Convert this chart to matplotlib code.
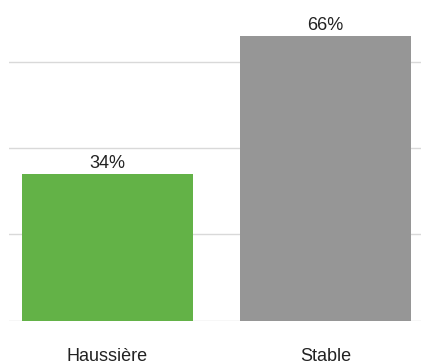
import matplotlib
matplotlib.use("Agg")
import matplotlib.pyplot as plt

categories = ["Haussière", "Stable"]
values = [34, 66]
colors = ["#63b247", "#969696"]
gridticks = [0, 20, 40, 60]

plt.rcParams['font.family'] = ['Liberation Sans', 'DejaVu Sans']

fig = plt.figure(figsize=(4.21, 3.64), dpi=100)
ax = fig.add_axes([9/421, 43.3/364, 412/421, (364-43.3)/364])
x = range(len(categories))
bars = ax.bar(x, values, width=0.784, color=colors, zorder=3)
ax.set_xlim(-0.452, 1.438)
ax.set_ylim(0, 74.3)
ax.set_yticks(gridticks)
ax.yaxis.grid(True, color="#d9d9d9", linewidth=1)
ax.tick_params(axis='y', length=0, labelleft=False)
ax.set_xticks(list(x))
ax.set_xticklabels(categories, fontsize=13, color="#222222")
ax.tick_params(axis='x', length=0, pad=20)
for s in ax.spines.values():
    s.set_visible(False)
for b, v in zip(bars, values):
    ax.annotate(f"{v}%", (b.get_x() + b.get_width()/2, v), xytext=(0, 1.5),
                textcoords="offset points", ha="center", va="bottom",
                fontsize=13, color="#222222")
fig.savefig("out.png", dpi=100)
